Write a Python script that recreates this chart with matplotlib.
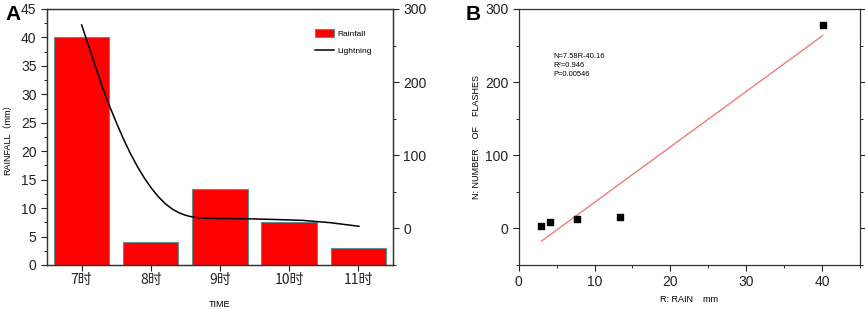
import matplotlib
matplotlib.use('Agg')
import matplotlib.pyplot as plt
from matplotlib.patches import Patch
from matplotlib.lines import Line2D
from matplotlib.ticker import MultipleLocator

plt.rcParams['font.family'] = ['Liberation Sans', 'Noto Sans CJK SC', 'DejaVu Sans']

# Panel A data
hours = ['7时', '8时', '9时', '10时', '11时']
rainfall = [40.1, 4.1, 13.4, 7.6, 3.0]
lightning = [278, 9, 15, 13, 3]
# smoothed lightning curve as drawn in the source figure
curve_x = [0.0, 0.101, 0.202, 0.303, 0.404, 0.505, 0.606, 0.707, 0.808, 0.909, 1.010,
           1.111, 1.212, 1.313, 1.414, 1.515, 1.615, 1.716, 1.86, 2.005, 2.4, 2.8,
           3.2, 3.6, 4.01]
curve_y = [278.5, 249.7, 220.9, 192.8, 167.4, 144.1, 122.1, 102.2, 84.4, 68.6, 54.9,
           43.2, 33.6, 26.3, 21.1, 17.6, 15.4, 14.3, 13.7, 13.5, 13.2, 12.2,
           11.0, 7.8, 2.9]

# Panel B data (rain vs flashes per hour)
rain_mm = [3.0, 4.1, 7.7, 13.4, 40.1]
flashes = [3, 9, 13, 15, 278]
fit_x = [3.0, 40.1]
fit_y = [-17.4, 263.8]

fig = plt.figure(figsize=(8.65, 3.09), dpi=100)

# ---- Panel A ----
ax = fig.add_axes([0.0543, 0.1424, 0.40, 0.8285])
xs = range(len(hours))
ax.bar(xs, rainfall, width=0.8, color='#ff0000', edgecolor='#5f8f8f', linewidth=0.8, zorder=2)
ax.set_xlim(-0.5, 4.5)
ax.set_ylim(0, 45)
ax.set_xticks(list(xs))
ax.set_xticklabels(hours, family='Noto Sans CJK SC')
ax.yaxis.set_major_locator(MultipleLocator(5))
ax.yaxis.set_minor_locator(MultipleLocator(2.5))
ax.tick_params(axis='both', which='major', labelsize=10, direction='out', length=4, colors='#222222')
ax.tick_params(axis='x', which='major', pad=2)
ax.tick_params(axis='y', which='minor', direction='out', length=2.5)
ax.set_ylabel('RAINFALL（mm）', fontsize=6.5, labelpad=6)
ax.set_xlabel('TIME', fontsize=6.5, labelpad=9)

ax2 = ax.twinx()
ax2.plot(curve_x, curve_y, color='black', linewidth=1.1, zorder=3,
         solid_joinstyle='round', solid_capstyle='round')
ax2.set_ylim(-50, 300)
ax2.yaxis.set_major_locator(MultipleLocator(100))
ax2.yaxis.set_minor_locator(MultipleLocator(50))
ax2.tick_params(axis='y', which='major', labelsize=10, direction='out', length=4, colors='#222222')
ax2.tick_params(axis='y', which='minor', direction='out', length=2.5)
for a in (ax, ax2):
    for s in a.spines.values():
        s.set_color('#333333')
        s.set_linewidth(0.9)

handles = [Patch(facecolor='#ff0000', edgecolor='#5f8f8f', linewidth=0.8, label='Rainfall'),
           Line2D([0], [0], color='black', linewidth=1.1, label='Lightning')]
ax2.legend(handles=handles, loc='upper right', bbox_to_anchor=(0.96, 0.95), frameon=False,
           fontsize=6, handlelength=2.2, handleheight=1.1, labelspacing=1.0, handletextpad=0.4)

fig.text(0.006, 0.985, 'A', fontsize=15, fontweight='bold', va='top', ha='left')

# ---- Panel B ----
bx = fig.add_axes([0.5996, 0.1424, 0.3946, 0.8285])
bx.plot(fit_x, fit_y, color='#f07070', linewidth=0.9, zorder=2)
bx.scatter(rain_mm, flashes, marker='s', s=22, color='black', zorder=3)
bx.set_xlim(0, 45)
bx.set_ylim(-50, 300)
bx.xaxis.set_major_locator(MultipleLocator(10))
bx.xaxis.set_minor_locator(MultipleLocator(5))
bx.yaxis.set_major_locator(MultipleLocator(100))
bx.yaxis.set_minor_locator(MultipleLocator(50))
bx.tick_params(axis='both', which='major', labelsize=10, direction='out', length=4, colors='#222222')
bx.tick_params(axis='both', which='minor', direction='out', length=2.5)
bx.tick_params(axis='y', which='both', right=True)
bx.set_xlabel('R: RAIN    mm', fontsize=6.5, labelpad=4)
bx.set_ylabel('N: NUMBER    OF    FLASHES', fontsize=6.5, labelpad=3)
for s in bx.spines.values():
    s.set_color('#333333')
    s.set_linewidth(0.9)
bx.text(0.103, 0.827, 'N=7.58R-40.16\nR²=0.946\nP=0.00546', transform=bx.transAxes,
        fontsize=5.4, va='top', ha='left', linespacing=1.4)

fig.text(0.538, 0.985, 'B', fontsize=15, fontweight='bold', va='top', ha='left')

fig.savefig('out.png', dpi=100)
